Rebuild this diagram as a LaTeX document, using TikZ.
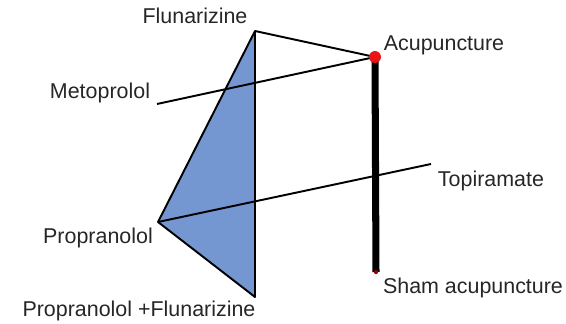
\documentclass[tikz,border=0pt]{standalone}
\usepackage{fontspec}
\setmainfont{Liberation Sans}
\usepackage{xcolor}
\usepackage{tikz}
\usetikzlibrary{positioning}
\definecolor{netblue}{RGB}{116,150,209}
\definecolor{dotred}{RGB}{235,20,20}

\tikzset{
  drug/.style={font=\fontsize{12.2}{14}\selectfont, text=black!85, inner sep=0pt},
  edge/.style={line width=1.1pt, black}
}

\begin{document}
\begin{tikzpicture}[x=0.02cm, y=-0.02cm]
    \useasboundingbox (0,0) rectangle (566,324);
    % treatment points
    \coordinate (flu) at (255,31);
    \coordinate (pro) at (158,222);
    \coordinate (proflu) at (255,297);
    \coordinate (acu) at (375,57);
    \coordinate (sham) at (376,272);
    \coordinate (meto) at (157,104);
    \coordinate (topi) at (431,164);
    % closed loop
    \fill[netblue] (flu) -- (pro) -- (proflu) -- cycle;
    \draw[edge, line join=round] (flu) -- (pro) -- (proflu) -- cycle;
    \draw[edge] (flu) -- (acu);
    \draw[edge] (meto) -- (acu);
    \draw[edge] (pro) -- (topi);
    % acupuncture vs sham
    \draw[line width=4pt, black] (acu) -- (sham);
    \fill[dotred] (acu) circle(3.4pt);
    \fill[red!60!black] (sham) circle(1.2pt);
    % labels
    \node[drug] (lflu) at (195,16) {Flunarizine};
    \node[drug] (lacu) at (444,45) {Acupuncture};
    \node[drug] (lmeto) at (100,93) {Metoprolol};
    \node[drug] (ltopi) at (491,181) {Topiramate};
    \node[drug] (lpro) at (98,238) {Propranolol};
    \node[drug] (lproflu) at (139,311) {Propranolol +Flunarizine};
    \node[drug] (lsham) at (473,288) {Sham acupuncture};
  \end{tikzpicture}
\end{document}
